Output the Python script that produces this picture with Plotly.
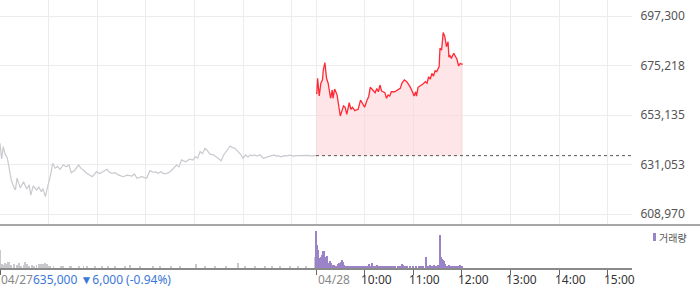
import plotly.graph_objects as go

# ---------------- data ----------------
session_minutes = 390  # 09:00-15:30 session length; day 2 starts after day 1

prev_close = 635000
change_text = "635,000 ▼6,000 (-0.94%)"
prev_day_label = "04/27"

# 04/27 price (minutes from 09:00, price)
d1_min = [0, 2, 4, 6, 9, 11, 14, 17, 19, 21, 25, 29, 33, 36, 38, 41, 45, 48, 51, 53, 56,
          59, 62, 65, 68, 71, 74, 78, 82, 85, 88, 92, 97, 100, 103, 106, 109, 114, 119, 123,
          127, 132, 135, 138, 142, 146, 152, 157, 163, 166, 169, 175, 181, 185, 189, 192, 195,
          199, 202, 206, 210, 214, 218, 221, 224, 229, 234, 238, 241, 244, 247, 250, 253, 256,
          259, 264, 269, 273, 276, 280, 284, 287, 290, 292, 294, 297, 300, 303, 306, 309, 311,
          314, 317, 321, 325, 328, 331, 335, 339, 341, 343, 347, 351, 354, 358, 362, 366,
          370, 373, 376, 380, 384, 387, 390]
d1_price = [640500, 633500, 639000, 636000, 634000, 630000, 624000, 621000, 619700, 625000,
            620600, 623400, 620100, 622000, 617400, 621500, 619700, 621000, 618900, 620300,
            616700, 621500, 625600, 631600, 629400, 630200, 628900, 630800, 630000, 630900,
            627400, 628400, 630800, 629300, 628600, 627400, 626700, 625600, 627800, 627000,
            627800, 628900, 627600, 627100, 627400, 626400, 625600, 626300, 625900, 626800,
            624900, 625600, 624900, 628300, 627600, 627800, 627100, 627800, 626900, 627100,
            627800, 629500, 630800, 630000, 633100, 632300, 633400, 633000, 634500, 633900,
            636800, 635900, 638300, 637200, 635700, 635300, 633800, 632700, 635300, 637400,
            639300, 638600, 638300, 637500, 636800, 635600, 633800, 635300, 634400, 635300,
            634900, 635300, 634800, 635400, 633800, 634200, 634800, 635000, 635200, 634800,
            635000, 634500, 635000, 634900, 635200, 634800, 635000, 635100, 634900, 635000,
            635100, 634900, 635000, 635000]

# 04/28 price (minutes from 09:00, price)
d2_min = [1, 2, 4, 6, 8, 9, 11, 13, 15, 18, 20, 21, 23, 26, 28, 30, 34, 36, 38, 41, 43,
          45, 48, 52, 55, 57, 60, 63, 65, 67, 70, 73, 75, 77, 79, 81, 83, 85, 87, 89, 91,
          93, 97, 100, 104, 106, 109, 112, 116, 119, 121, 123, 124, 126, 129, 132, 135, 137,
          139, 141, 143, 145, 147, 149, 152, 153, 155, 157, 159, 161, 163, 164, 165, 167,
          170, 172, 174, 176, 178, 180, 181]
d2_price = [662800, 669500, 661600, 667300, 668800, 673200, 676500, 669500, 667300, 660600,
            664300, 660600, 664700, 662100, 657600, 652700, 657200, 656600, 653400, 658600,
            655700, 656600, 655100, 655700, 659800, 658400, 656600, 659800, 661300, 665500,
            664300, 663100, 665000, 663500, 666500, 663800, 663500, 663100, 660600, 662100,
            661600, 663500, 663500, 664300, 665000, 667300, 668800, 668000, 665800, 663500,
            661600, 663500, 661600, 665500, 666100, 667000, 668000, 667300, 670200, 669100,
            671700, 670500, 672900, 672500, 674700, 682900, 682100, 689900, 688100, 683600,
            685800, 678900, 679900, 678400, 680700, 679500, 678000, 675000, 676200, 675800,
            675900]

# volume (minutes from 09:00, shares)
d1_vol_min = [0, 2, 4, 6, 8, 10, 11, 14, 17, 21, 23, 26, 29, 31, 33, 36, 39, 42, 45, 48, 49,
              51, 53, 56, 58, 60, 62, 66, 75, 78, 86, 88, 97, 103, 107, 117, 126, 133, 142,
              154, 160, 173, 189, 197, 211, 222, 242, 253, 265, 279, 294, 302, 315, 327, 336,
              346, 358, 368, 378, 389]
d1_vol = [18300, 4300, 3300, 5000, 4300, 5700, 6300, 3000, 3600, 3000, 5000, 2300, 3000,
          6300, 4300, 2300, 3000, 2300, 3000, 3600, 4300, 3600, 4300, 5000, 3600, 2300, 1700,
          1700, 2300, 1700, 2300, 1700, 2300, 1700, 2300, 1500, 2000, 1500, 2300, 1500, 2600,
          1500, 2000, 1500, 2000, 1500, 4000, 2000, 1500, 2000, 5000, 2000, 1500, 2000, 1500,
          2000, 1500, 2300, 1500, 10700]
d2_vol_min = [0, 1, 2, 4, 5, 6, 7, 9, 10, 11, 12, 14, 15, 16, 17, 19, 20, 21, 22, 23, 25, 26,
              27, 28, 30, 31, 32, 33, 35, 36, 38, 41, 43, 46, 48, 51, 53, 56, 58, 60, 63, 65,
              67, 69, 70, 73, 75, 78, 80, 83, 85, 88, 90, 93, 95, 97, 101, 104, 106, 107, 110,
              112, 116, 120, 123, 127, 130, 132, 136, 138, 141, 143, 146, 148, 151, 153, 154,
              155, 157, 158, 159, 162, 164, 167, 169, 172, 174, 176, 178, 180]
d2_vol = [36700, 23300, 18300, 10000, 8300, 10700, 13300, 16700, 16700, 10700, 10000, 11700,
          5000, 4000, 6700, 5000, 2700, 3300, 3300, 2500, 1700, 2500, 4000, 4700, 5000, 6000,
          8300, 6000, 3300, 1700, 1700, 1700, 1700, 1700, 1700, 1200, 2300, 1700, 1200, 1700,
          2300, 4000, 2300, 4700, 2300, 1700, 2700, 1200, 1700, 2000, 1200, 1700, 2000, 1700,
          1200, 2000, 1700, 2300, 4000, 3300, 2300, 1700, 1700, 1200, 1700, 1700, 1200, 1700,
          10700, 2300, 2700, 2000, 3300, 2300, 2700, 33300, 10700, 9300, 8300, 7300, 4000,
          2300, 3300, 1700, 2300, 1700, 2300, 1700, 3300, 1700]

y_ticks = [608970, 631053, 653135, 675218, 697300]
x_grid_hours_d1 = [60, 120, 180, 240, 300, 360]
x_tick_min_d2 = [0, 60, 120, 180, 240, 300, 360]
x_tick_labels = ["04/28", "10:00", "11:00", "12:00", "13:00", "14:00", "15:00"]
volume_name = "거래량"

# ---------------- figure ----------------
W, H = 700, 289
FONT = "Noto Sans"

d2_x = [session_minutes + m for m in d2_min]
d2_vx = [session_minutes + m for m in d2_vol_min]
tick_x2 = [session_minutes + m for m in x_tick_min_d2]

fig = go.Figure()

# day 1 grey line
fig.add_trace(go.Scatter(x=d1_min, y=d1_price, mode="lines",
                         line=dict(color="#c9c9cf", width=1.2), xaxis="x", yaxis="y",
                         hoverinfo="skip"))
# baseline for fill
fig.add_trace(go.Scatter(x=[session_minutes] + d2_x, y=[prev_close] * (len(d2_x) + 1),
                         mode="lines", line=dict(width=0, color="rgba(0,0,0,0)"),
                         xaxis="x", yaxis="y", hoverinfo="skip"))
# day 2 red line with fill
fig.add_trace(go.Scatter(x=[session_minutes] + d2_x, y=[d2_price[0]] + d2_price, mode="lines",
                         line=dict(color="#ff2a36", width=1.3), fill="tonexty",
                         fillcolor="rgba(251,212,216,0.6)", xaxis="x", yaxis="y",
                         hoverinfo="skip"))
# previous close dotted
fig.add_trace(go.Scatter(x=[session_minutes, 2 * session_minutes], y=[prev_close, prev_close],
                         mode="lines", line=dict(color="#555555", width=1, dash="dot"),
                         xaxis="x", yaxis="y", hoverinfo="skip"))

# volume
fig.add_trace(go.Bar(x=d1_vol_min, y=d1_vol, width=1.1,
                     marker=dict(color="#c8c8cd", line=dict(width=0)),
                     xaxis="x2", yaxis="y2", hoverinfo="skip"))
fig.add_trace(go.Bar(x=d2_vx, y=d2_vol, width=1.1,
                     marker=dict(color="#9b83c8", line=dict(width=0)),
                     xaxis="x2", yaxis="y2", hoverinfo="skip"))

xdom = [0, 632 / W]
main_dom = [1 - 225 / H, 1]
vol_dom = [(H - 268) / H, (H - 226) / H]
xr = [0, 2 * session_minutes]

fig.update_layout(
    width=W, height=H, margin=dict(l=0, r=0, t=0, b=0),
    paper_bgcolor="white", plot_bgcolor="white", showlegend=False, bargap=0,
    font=dict(family=FONT, size=12, color="#555"),
    xaxis=dict(domain=xdom, range=xr, anchor="y",
               tickvals=x_grid_hours_d1 + tick_x2[1:] + [session_minutes],
               showticklabels=False, ticks="", showgrid=True, gridcolor="#ececec",
               gridwidth=1, zeroline=False, showline=False, fixedrange=True),
    yaxis=dict(domain=main_dom, range=[604065, 704438], side="right", anchor="x",
               tickvals=y_ticks, ticktext=[f"{v:,}" for v in y_ticks],
               showgrid=True, gridcolor="#ececec", zeroline=False, showline=False,
               ticks="outside", ticklen=5, tickcolor="rgba(0,0,0,0)",
               tickfont=dict(family=FONT, size=12, color="#555")),
    xaxis2=dict(domain=xdom, range=xr, anchor="y2",
                tickvals=[0] + tick_x2, showticklabels=False, ticks="outside", ticklen=5,
                tickcolor="#666", tickwidth=1, showgrid=False, zeroline=False,
                showline=True, linecolor="#8a8a8a", linewidth=1.5),
    yaxis2=dict(domain=vol_dom, range=[0, 42000], anchor="x2", visible=False),
)

# separator line between panels
fig.add_shape(type="line", xref="paper", yref="paper", x0=0, x1=1,
              y0=1 - 225 / H, y1=1 - 225 / H, line=dict(color="#8a8a8a", width=1.5))

# x tick labels (kept fully inside the canvas)
label_y = 0
for i, (xv, lab) in enumerate(zip(tick_x2, x_tick_labels)):
    fig.add_annotation(x=xv, y=label_y, xref="x2", yref="paper", text=lab, showarrow=False,
                       xanchor="left", yanchor="bottom", xshift=(1 if i == 0 else -5),
                       borderpad=0, yshift=0,
                       font=dict(family=FONT, size=12, color="#888" if i == 0 else "#333"))

fig.add_annotation(x=0, y=label_y, xref="paper", yref="paper", showarrow=False,
                   xanchor="left", yanchor="bottom", borderpad=0,
                   text=f"<span style='color:#888'>{prev_day_label}</span>"
                        f"<span style='color:#3b78d8'>{change_text}</span>",
                   font=dict(family=FONT, size=12))

# volume legend
fig.add_shape(type="rect", xref="paper", yref="paper", x0=653 / W, x1=656 / W,
              y0=(H - 241) / H, y1=(H - 233) / H, fillcolor="#9b83c8", line=dict(width=0))
fig.add_annotation(x=657 / W, y=(H - 237) / H, xref="paper", yref="paper", text=volume_name,
                   showarrow=False, xanchor="left", yanchor="middle",
                   font=dict(family="Noto Sans CJK KR", size=10, color="#555"))

fig.write_html("out.html")
